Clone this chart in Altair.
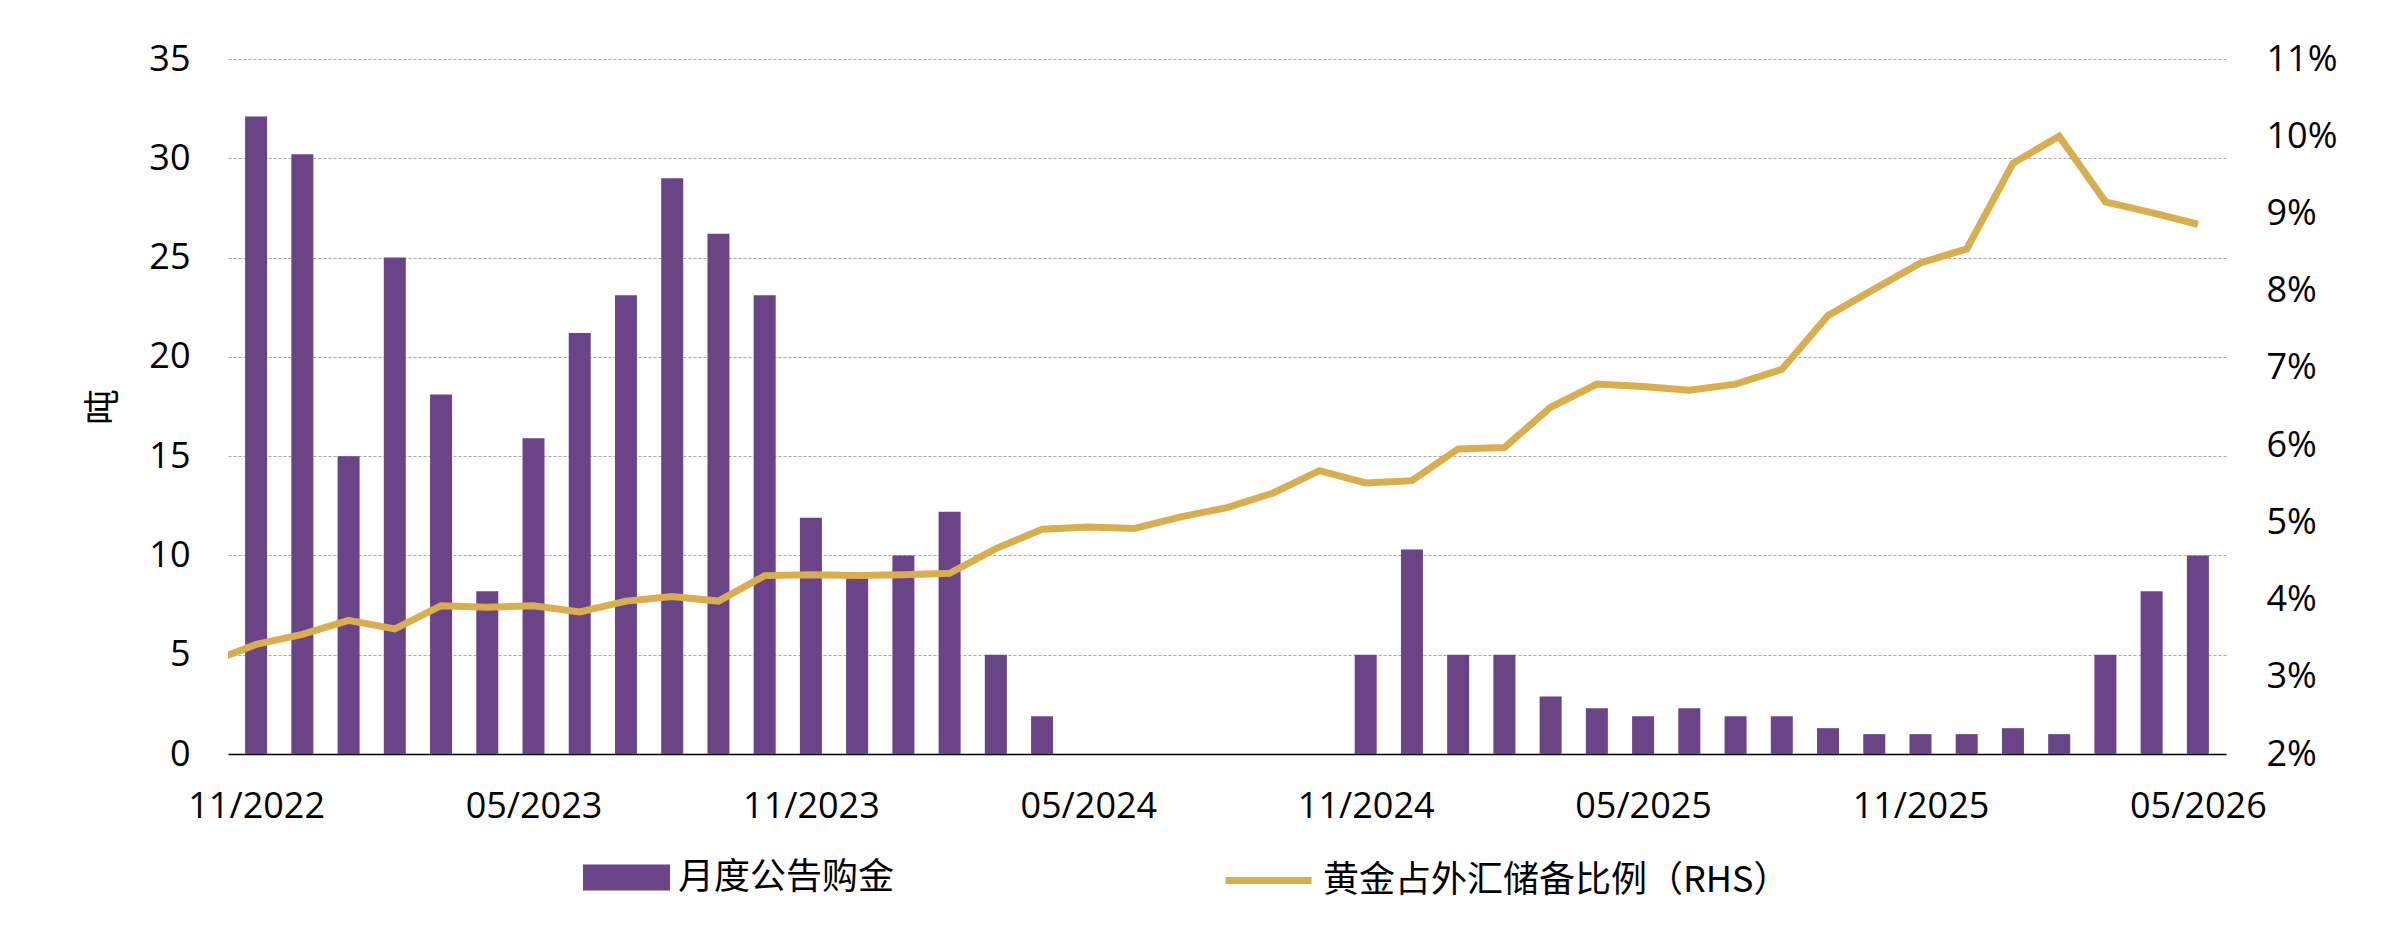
import altair as alt
import pandas as pd

# ---- data ----
month_labels = ["11/2022", "05/2023", "11/2023", "05/2024",
                "11/2024", "05/2025", "11/2025", "05/2026"]
label_positions = [0, 6, 12, 18, 24, 30, 36, 42]   # month index of each label

# monthly announced gold purchases (tonnes), 11/2022 .. 05/2026
tons = [32.1, 30.2, 15.0, 25.0, 18.1, 8.2, 15.9, 21.2, 23.1, 29.0, 26.2, 23.1,
        11.9, 8.9, 10.0, 12.2, 5.0, 1.9, 0, 0, 0, 0, 0, 0,
        5.0, 10.3, 5.0, 5.0, 2.9, 2.3, 1.9, 2.3, 1.9, 1.9, 1.3, 1.0,
        1.0, 1.0, 1.3, 1.0, 5.0, 8.2, 10.0]

# gold share of FX reserves (%), 10/2022 .. 05/2026 (first point is clipped at the edge)
ratio_index = list(range(-1, 43))
ratio = [3.19, 3.42, 3.55, 3.73, 3.62, 3.92, 3.90, 3.92, 3.84, 3.98, 4.04, 3.98,
         4.31, 4.32, 4.31, 4.32, 4.34, 4.66, 4.91, 4.94, 4.92, 5.07, 5.19, 5.38,
         5.67, 5.51, 5.54, 5.95, 5.97, 6.49, 6.79, 6.76, 6.71, 6.79, 6.98, 7.68,
         8.02, 8.36, 8.54, 9.65, 10.0, 9.15, 9.01, 8.86]

bar_name = "月度公告购金"
line_name = "黄金占外汇储备比例（RHS）"

bars_df = pd.DataFrame({"i": list(range(len(tons))), "tons": tons, "series": bar_name})
line_df = pd.DataFrame({"i": ratio_index, "ratio": ratio, "series": line_name})

PURPLE = "#6b4387"
GOLD = "#d9ae4f"
LATIN = "Open Sans"
CJK = "Noto Sans CJK SC"
FS = 36

label_expr = "[" + ",".join("'%s'" % m for m in month_labels) + "][round(datum.value / 6)]"

x_enc = alt.X(
    "i:Q",
    scale=alt.Scale(domain=[-0.5, 42.5], nice=False, zero=False),
    axis=alt.Axis(values=label_positions, labelExpr=label_expr, grid=False,
                  ticks=False, tickSize=0, domainColor="black", domainWidth=1.5,
                  labelPadding=35, labelFontSize=FS, labelFont=LATIN,
                  labelColor="black", title=None),
    title=None,
)

bars = alt.Chart(bars_df).mark_bar(size=22, orient="vertical").encode(
    x=x_enc,
    y=alt.Y("tons:Q",
            scale=alt.Scale(domain=[0, 35], nice=False),
            axis=alt.Axis(values=list(range(0, 36, 5)), grid=True,
                          gridDash=[3, 2], gridColor="#a6a6a6", gridWidth=1,
                          domain=False, ticks=False, tickSize=0, labelPadding=38,
                          labelFontSize=FS, labelFont=LATIN, labelColor="black",
                          title="吨", titleFont=CJK, titleFontSize=36,
                          titleFontWeight="normal", titleColor="black",
                          titlePadding=26)),
    fill=alt.Fill("series:N",
                  scale=alt.Scale(domain=[bar_name], range=[PURPLE]),
                  legend=alt.Legend(orient="none", legendX=355, legendY=775,
                                    title=None, padding=0, labelLimit=0,
                                    symbolType="M-1,-0.3H1V0.3H-1Z",
                                    symbolSize=7569, symbolStrokeWidth=0,
                                    labelFont=CJK, labelFontSize=36,
                                    labelColor="black", labelOffset=8)),
)

line = alt.Chart(line_df).mark_line(clip=True, strokeWidth=7).encode(
    x=x_enc,
    y=alt.Y("ratio:Q",
            scale=alt.Scale(domain=[2, 11], nice=False, zero=False),
            axis=alt.Axis(orient="right", values=list(range(2, 12)),
                          labelExpr="datum.value + '%'", grid=False,
                          domain=False, ticks=False, tickSize=0, labelPadding=40,
                          labelFontSize=FS, labelFont=LATIN, labelColor="black",
                          title=None)),
    stroke=alt.Stroke("series:N",
                      scale=alt.Scale(domain=[line_name], range=[GOLD]),
                      legend=alt.Legend(orient="none", legendX=994, legendY=775,
                                        title=None, padding=0, labelLimit=0,
                                        symbolType="stroke", symbolSize=7396,
                                        symbolStrokeWidth=7,
                                        labelFont=CJK, labelFontSize=36,
                                        labelColor="black", labelOffset=8)),
    order="i:Q",
)

chart = alt.layer(bars, line).resolve_scale(y="independent").properties(
    width=1998,
    height=695,
    autosize=alt.AutoSizeParams(type="none"),
    padding={"left": 228, "top": 59, "right": 178, "bottom": 187},
    background="white",
).configure_view(stroke=None)

chart.save("out.html", embed_options={"renderer": "svg", "actions": False})
